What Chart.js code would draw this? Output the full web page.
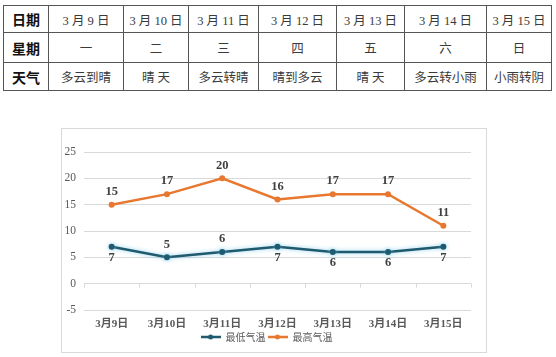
<!DOCTYPE html>
<html><head><meta charset="utf-8">
<script src="https://cdn.jsdelivr.net/npm/chart.js@4/dist/chart.umd.min.js"></script>
<style>
html,body{margin:0;padding:0;background:#fff;width:556px;height:357px;overflow:hidden;}
#tbl{position:absolute;left:3px;top:5px;border-collapse:collapse;table-layout:fixed;}
#tbl td{border:1px solid #555;padding:0;text-align:center;font-family:"Liberation Serif","Noto Sans CJK SC",serif;font-size:12.5px;color:#3a3a3a;white-space:nowrap;overflow:hidden;}
#tbl td.h{font-family:"Noto Sans CJK SC",sans-serif;font-weight:bold;font-size:14px;color:#111;}
#box{position:absolute;left:61px;top:128px;width:426px;height:225px;box-sizing:border-box;border:1px solid #d9d9d9;}
#c{display:block;}
</style></head>
<body>
<table id="tbl"></table>
<div id="box"><canvas id="c" width="424" height="223"></canvas></div>
<script>
const dateCells = ["3 月 9 日","3 月 10 日","3 月 11 日","3 月 12 日","3 月 13 日","3 月 14 日","3 月 15 日"];
const weekCells = ["一","二","三","四","五","六","日"];
const weatherCells = ["多云到晴","晴 天","多云转晴","晴到多云","晴 天","多云转小雨","小雨转阴"];
const rowHeads = ["日期","星期","天气"];

const categories = ["3月9日","3月10日","3月11日","3月12日","3月13日","3月14日","3月15日"];
const lowTemps = [7,5,6,7,6,6,7];
const highTemps = [15,17,20,16,17,17,11];
const yTicks = [-5,0,5,10,15,20,25];

// build table
const colW = [45,75,65,70,78,68,82,65];
const rowH = [27,30,28];
const tbl = document.getElementById('tbl');
const cg = document.createElement('colgroup');
colW.forEach(w=>{const c=document.createElement('col');c.style.width=w+'px';cg.appendChild(c);});
tbl.appendChild(cg);
tbl.style.width = colW.reduce((a,b)=>a+b,0)+'px';
[dateCells,weekCells,weatherCells].forEach((row,i)=>{
  const tr=document.createElement('tr');tr.style.height=rowH[i]+'px';
  const th=document.createElement('td');th.className='h';th.textContent=rowHeads[i];tr.appendChild(th);
  row.forEach(t=>{const td=document.createElement('td');td.textContent=t;tr.appendChild(td);});
  tbl.appendChild(tr);
});

const lowColor = '#1f5a6e';
const highColor = '#e8782f';

function legendImg(color){
  const c=document.createElement('canvas');c.width=20;c.height=8;
  const x=c.getContext('2d');
  x.strokeStyle=color;x.lineWidth=2.5;x.beginPath();x.moveTo(0,4);x.lineTo(20,4);x.stroke();
  x.fillStyle=color;x.beginPath();x.arc(10,4,2.5,0,Math.PI*2);x.fill();
  return c;
}

const labelPos = {0:['below','above','above','below','below','below','below'],1:['above','above','above','above','above','above','above']};

const labelPlugin = {
  id:'dlabels',
  afterDatasetsDraw(chart){
    const ctx=chart.ctx;
    ctx.save();
    ctx.font='bold 12.5px "Liberation Serif", serif';
    ctx.fillStyle='#404040';
    ctx.textAlign='center';ctx.textBaseline='middle';
    chart.data.datasets.forEach((ds,di)=>{
      const meta=chart.getDatasetMeta(di);
      meta.data.forEach((pt,i)=>{
        const pos=labelPos[di][i];
        const dy = pos==='above' ? -13 : 11;
        ctx.fillText(String(ds.data[i]), pt.x, pt.y+dy);
      });
    });
    ctx.restore();
  }
};

const axisTicks = {
  id:'axisTicks',
  beforeDatasetsDraw(chart){
    const {ctx,chartArea}=chart;
    const y0=chart.scales.y.getPixelForValue(0);
    const n=categories.length;
    const step=(chartArea.right-chartArea.left)/n;
    ctx.save();
    ctx.strokeStyle='#d9d9d9';ctx.lineWidth=1;
    ctx.beginPath();
    for(let i=0;i<=n;i++){
      const x=Math.round(chartArea.left+step*i)+0.5;
      ctx.moveTo(x,y0);ctx.lineTo(x,y0+4);
    }
    ctx.stroke();
    ctx.restore();
  }
};

const glow = {
  id:'glow',
  beforeDatasetDraw(chart,args){
    if(args.index===0){chart.ctx.save();chart.ctx.shadowColor='rgba(120,200,235,0.8)';chart.ctx.shadowBlur=4;}
  },
  afterDatasetDraw(chart,args){
    if(args.index===0){chart.ctx.restore();}
  }
};

new Chart(document.getElementById('c'),{
  type:'line',
  data:{
    labels:categories,
    datasets:[
      {label:'最低气温',data:lowTemps,borderColor:lowColor,backgroundColor:lowColor,borderWidth:2.5,pointRadius:3,pointBackgroundColor:lowColor,pointBorderWidth:0,tension:0},
      {label:'最高气温',data:highTemps,borderColor:highColor,backgroundColor:highColor,borderWidth:2.5,pointRadius:3,pointBackgroundColor:highColor,pointBorderWidth:0,tension:0}
    ]
  },
  options:{
    responsive:false,animation:false,
    layout:{padding:{top:23,right:15,left:0,bottom:0}},
    scales:{
      x:{
        offset:true,
        grid:{display:false,drawTicks:false},
        border:{display:false},
        ticks:{font:{family:'"Liberation Serif","Noto Sans CJK SC",serif',size:11,weight:'bold'},color:'#595959',padding:8,maxRotation:0},
        afterFit(s){s.height=20;}
      },
      y:{
        min:-5,max:25,
        afterBuildTicks(s){s.ticks=yTicks.map(v=>({value:v}));},
        grid:{color:'#d9d9d9',drawTicks:false,lineWidth:1},
        border:{display:false},
        ticks:{font:{family:'"Liberation Serif",serif',size:11.5},color:'#595959',padding:8},
        afterFit(s){s.width=22;}
      }
    },
    plugins:{
      legend:{position:'bottom',labels:{
        usePointStyle:true,pointStyleWidth:20,boxHeight:8,padding:2,
        font:{family:'"Noto Sans CJK SC",sans-serif',size:10},color:'#595959',
        generateLabels(chart){
          return chart.data.datasets.map((ds,i)=>({text:ds.label,pointStyle:legendImg(ds.borderColor),fillStyle:ds.borderColor,strokeStyle:ds.borderColor,lineWidth:0,datasetIndex:i,hidden:false,fontColor:'#595959'}));
        }
      }},
      tooltip:{enabled:false}
    }
  },
  plugins:[glow,axisTicks,labelPlugin]
});
</script>
</body></html>
